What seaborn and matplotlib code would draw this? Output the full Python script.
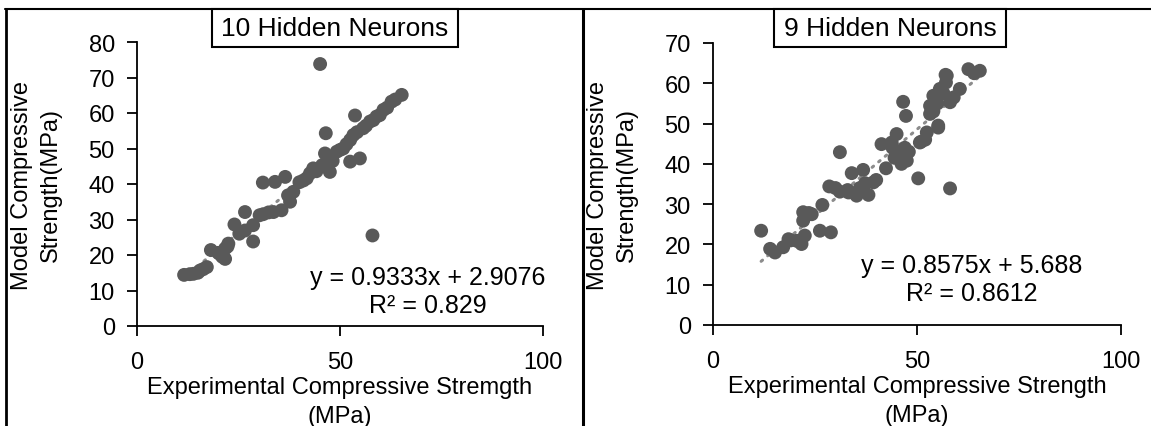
import numpy as np
import pandas as pd
import matplotlib
matplotlib.use("Agg")
import matplotlib.pyplot as plt
from matplotlib.lines import Line2D
from matplotlib.patches import Rectangle
import seaborn as sns

# ---------------- data ----------------
left_title = "10 Hidden Neurons"
right_title = "9 Hidden Neurons"

left_x = [11.6, 13.0, 13.9, 15.0, 15.5, 16.3, 17.2, 18.2, 20.0, 20.4, 21.0, 21.7, 21.7, 22.3,
          22.5, 24.0, 25.2, 26.6, 26.6, 28.6, 28.6, 30.2, 31.0, 31.1, 32.4, 33.6, 34.0, 35.6,
          36.5, 37.2, 37.7, 38.5, 40.0, 41.0, 41.8, 42.6, 43.4, 44.2, 45.1, 45.6, 46.3, 46.5,
          47.0, 47.5, 48.2, 49.2, 50.0, 50.8, 51.6, 52.5, 52.5, 53.3, 53.7, 54.2, 54.9, 55.7,
          56.4, 57.4, 58.0, 58.2, 59.0, 59.8, 60.7, 61.6, 62.7, 63.6, 65.2]
left_y = [14.4, 14.6, 14.7, 15.0, 15.6, 16.0, 16.6, 21.4, 20.6, 20.3, 19.5, 18.9, 21.8, 22.4,
          23.2, 28.6, 26.0, 32.1, 26.9, 28.4, 23.8, 31.2, 40.4, 31.5, 32.0, 32.1, 40.6, 32.6,
          42.0, 36.8, 35.0, 37.8, 40.5, 41.0, 41.6, 43.0, 44.4, 43.6, 73.8, 45.3, 48.6, 54.3,
          47.2, 43.4, 46.5, 49.1, 49.6, 50.0, 51.2, 52.4, 46.3, 53.8, 59.3, 54.6, 47.2, 55.7,
          56.4, 57.6, 25.5, 58.0, 59.0, 59.4, 60.9, 61.5, 63.2, 63.8, 65.1]
left_slope, left_intercept = 0.9333, 2.9076
left_eq = "y = 0.9333x + 2.9076\nR² = 0.829"

right_x = [11.8, 14.0, 15.2, 17.2, 18.5, 19.0, 20.5, 21.7, 22.5, 22.1, 22.1, 23.5, 24.2, 26.2,
           28.9, 26.8, 28.5, 30.0, 31.1, 31.1, 33.0, 33.2, 35.2, 38.1, 34.0, 36.0, 36.8, 39.3,
           37.3, 40.0, 42.4, 41.3, 44.0, 44.5, 45.0, 43.8, 45.8, 47.5, 46.2, 47.0, 48.0, 46.6,
           47.3, 50.3, 58.1, 50.7, 51.0, 52.0, 52.4, 53.2, 53.2, 54.0, 54.0, 55.0, 55.2, 55.2,
           55.6, 56.5, 57.0, 57.1, 57.3, 58.1, 59.0, 60.5, 62.6, 64.0, 65.4]
right_y = [23.4, 18.9, 18.0, 19.3, 21.3, 21.0, 20.9, 20.1, 22.2, 28.0, 25.9, 27.8, 27.5, 23.4,
           23.0, 29.8, 34.4, 34.0, 42.9, 33.1, 33.5, 32.9, 32.1, 32.3, 37.7, 34.0, 38.5, 35.4,
           35.2, 36.0, 38.9, 44.9, 44.0, 41.5, 47.4, 45.3, 42.0, 40.8, 40.0, 44.0, 43.0, 55.4,
           51.9, 36.4, 33.9, 45.3, 45.5, 46.0, 47.8, 52.4, 54.4, 56.9, 53.0, 55.0, 49.5, 49.0,
           58.6, 57.5, 62.1, 60.2, 61.9, 55.3, 56.5, 58.6, 63.5, 62.5, 63.1]
right_slope, right_intercept = 0.8575, 5.688
right_eq = "y = 0.8575x + 5.688\nR² = 0.8612"

left_xlabel = "Experimental Compressive Stremgth\n(MPa)"
right_xlabel = "Experimental Compressive Strength\n(MPa)"
ylabel = "Model Compressive\nStrength(MPa)"

# ---------------- style ----------------
sns.set_theme(style="ticks")
plt.rcParams["font.family"] = ["Liberation Sans", "DejaVu Sans"]

W, H = 1151, 427
fig = plt.figure(figsize=(W / 100, H / 100), dpi=100)
fig.patch.set_facecolor("white")


def fx(px):
    return px / W


def fy(py):
    return 1 - py / H


def make_axes(x0, x1, y0, y1):
    return fig.add_axes([fx(x0), fy(y1), fx(x1) - fx(x0), fy(y0) - fy(y1)])


axL = make_axes(137, 543, 43, 327)
axR = make_axes(713, 1121, 44, 326)

MARKER = "#595959"
FS = 17


def draw(ax, xs, ys, slope, intercept, ymax, eq, eq_pos, xlabel):
    df = pd.DataFrame({"x": xs, "y": ys})
    sns.scatterplot(data=df, x="x", y="y", ax=ax, color=MARKER, s=100,
                    edgecolor="none", linewidth=0, zorder=3)
    xt = np.array([min(xs), max(xs)])
    tdf = pd.DataFrame({"x": xt, "y": slope * xt + intercept})
    sns.lineplot(data=tdf, x="x", y="y", ax=ax, color="#8c8c8c",
                 linestyle=(0, (0.6, 2.2)), linewidth=2.2, dash_capstyle="round", zorder=2)
    ax.set_xlim(0, 100)
    ax.set_ylim(0, ymax)
    ax.set_xticks([0, 50, 100])
    ax.set_yticks(np.arange(0, ymax + 1, 10))
    sns.despine(ax=ax)
    for s in ("left", "bottom"):
        ax.spines[s].set_color("black")
        ax.spines[s].set_linewidth(1.3)
    ax.tick_params(axis="both", direction="out", length=7, width=1.3,
                   color="black", labelsize=FS, labelcolor="black")
    ax.tick_params(axis="y", pad=9)
    ax.tick_params(axis="x", pad=11)
    ax.set_xlabel(xlabel, fontsize=FS, color="black", labelpad=2, linespacing=1.4)
    ax.set_ylabel(ylabel, fontsize=FS, color="black", labelpad=19, linespacing=1.4)
    ax.text(eq_pos[0], eq_pos[1], eq, fontsize=18, ha="center", va="center",
            multialignment="center", color="black", linespacing=1.2, zorder=4)
    ax.set_facecolor("none")


draw(axL, left_x, left_y, left_slope, left_intercept, 80, left_eq, (71.7, 9.75), left_xlabel)
draw(axR, right_x, right_y, right_slope, right_intercept, 70, right_eq, (63.5, 11.4), right_xlabel)

# chart borders
fig.add_artist(Line2D([fx(5), 1.0], [fy(10), fy(10)], color="black", lw=1.5))
fig.add_artist(Line2D([fx(6), fx(6)], [fy(10), 0], color="black", lw=2.0))
fig.add_artist(Line2D([fx(583), fx(583)], [fy(10), 0], color="black", lw=2.2))

# title boxes
for (x0, x1, title) in ((212, 458, left_title), (774, 1006, right_title)):
    fig.add_artist(Rectangle((fx(x0), fy(48)), fx(x1) - fx(x0), fy(10) - fy(48),
                             transform=fig.transFigure, facecolor="white",
                             edgecolor="black", lw=1.5, zorder=5))
    fig.text(fx((x0 + x1) / 2), fy(29), title, fontsize=19, ha="center", va="center",
             color="black", zorder=6)

fig.savefig("out.png", dpi=100, facecolor="white")
